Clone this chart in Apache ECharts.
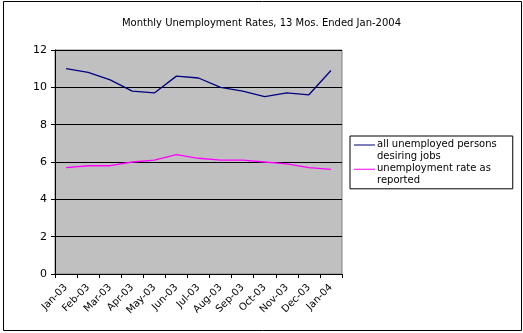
<!DOCTYPE html>
<html><head><meta charset="utf-8">
<script src="https://cdn.jsdelivr.net/npm/echarts@6/dist/echarts.min.js"></script>
<style>html,body{margin:0;padding:0;background:#fff;}#c{width:523px;height:333px;}</style>
</head><body><div id="c"></div>
<script>
const categories = ['Jan-03','Feb-03','Mar-03','Apr-03','May-03','Jun-03','Jul-03','Aug-03','Sep-03','Oct-03','Nov-03','Dec-03','Jan-04'];
const allUnemployed = [11.0,10.8,10.4,9.8,9.7,10.6,10.5,10.0,9.8,9.5,9.7,9.6,10.9];
const reportedRate = [5.7,5.8,5.8,6.0,6.1,6.4,6.2,6.1,6.1,6.0,5.9,5.7,5.6];
const seriesNames = ['all unemployed persons\ndesiring jobs','unemployment rate as\nreported'];
const yTicks = [0,2,4,6,8,10,12];
const titleText = 'Monthly Unemployment Rates, 13 Mos. Ended Jan-2004';
const font = 'DejaVu Sans, Verdana, sans-serif';

const chart = echarts.init(document.getElementById('c'), null, {renderer:'canvas'});
chart.setOption({
  animation:false,
  backgroundColor:'#fff',
  title:{text:titleText,left:'center',top:13,textStyle:{fontFamily:font,fontSize:10,fontWeight:'normal',color:'#000'}},
  grid:{left:55,top:50,width:287,height:224,containLabel:false,backgroundColor:'#c0c0c0',show:true,borderColor:'#808080',borderWidth:1},
  legend:{
    orient:'vertical',left:350,top:136,
    padding:[2,16,2,4],itemGap:0,
    itemWidth:21,itemHeight:13,
    borderColor:'#000',borderWidth:1,backgroundColor:'#fff',
    icon:'path://M0,0H22V1H0Z M0,12H0.01V12.01H0Z',
    itemStyle:{borderWidth:0},
    textStyle:{fontFamily:font,fontSize:10,color:'#000',lineHeight:12.2,padding:[0,0,0,-3]},
    data:seriesNames
  },
  xAxis:{type:'category',data:categories,boundaryGap:true,
    axisLine:{lineStyle:{color:'#000',width:1}},
    axisTick:{show:true,alignWithLabel:false,length:4,lineStyle:{color:'#000'}},
    axisLabel:{rotate:45,fontFamily:font,fontSize:10,color:'#000',interval:0,margin:12}
  },
  yAxis:{type:'value',min:yTicks[0],max:yTicks[yTicks.length-1],interval:2,
    axisLine:{show:true,lineStyle:{color:'#000',width:1}},
    axisTick:{show:true,length:4,lineStyle:{color:'#000'}},
    axisLabel:{fontFamily:font,fontSize:11,color:'#000',margin:8},
    splitLine:{show:true,lineStyle:{color:'#000',width:1}}
  },
  series:[
    {name:seriesNames[0],type:'line',data:allUnemployed,symbol:'none',lineStyle:{color:'#000080',width:1.3},itemStyle:{color:'#000080'}},
    {name:seriesNames[1],type:'line',data:reportedRate,symbol:'none',lineStyle:{color:'#ff00ff',width:1.3},itemStyle:{color:'#ff00ff'}}
  ],
  graphic:[{type:'rect',shape:{x:3.5,y:1.5,width:518,height:329},style:{fill:null,stroke:'#000',lineWidth:1},silent:true,z:100}]
});
</script></body></html>
